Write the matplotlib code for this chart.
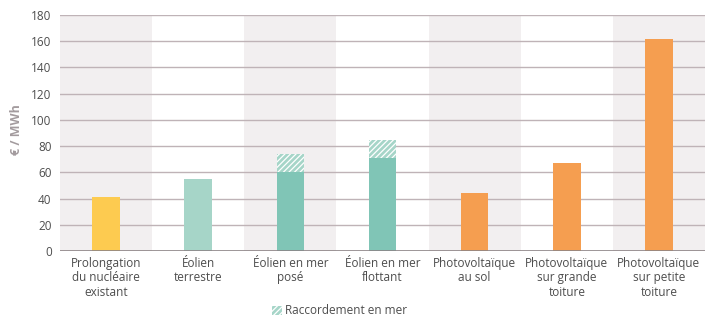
import numpy as np
import matplotlib.pyplot as plt
import matplotlib as mpl
from matplotlib.patches import Patch

mpl.rcParams['hatch.linewidth'] = 0.9

# Données
categories = [
    "Prolongation\ndu nucléaire\nexistant",
    "Éolien\nterrestre",
    "Éolien en mer\nposé",
    "Éolien en mer\nflottant",
    "Photovoltaïque\nau sol",
    "Photovoltaïque\nsur grande\ntoiture",
    "Photovoltaïque\nsur petite\ntoiture",
]
cout_base = [41, 55, 60, 71, 44, 67, 162]
raccordement_mer = [0, 0, 14, 14, 0, 0, 0]
couleurs = ["#FDCB50", "#A6D5C8", "#80C5B6", "#80C5B6",
            "#F59E50", "#F59E50", "#F59E50"]
yticks = [0, 20, 40, 60, 80, 100, 120, 140, 160, 180]

fig = plt.figure(figsize=(7.05, 3.18), dpi=100)
ax = fig.add_axes([60 / 705, 67 / 318, 645 / 705, 236 / 318])

x = np.arange(len(categories))

# bandes de fond alternées
for i in x:
    if i % 2 == 0:
        ax.axvspan(i - 0.5, i + 0.5, color="#F2EFF0", zorder=0, lw=0)

for t in yticks[1:]:
    ax.axhline(t, color="#BFB3B7", lw=1.0, zorder=1)
ax.axhline(0, color="#8C8486", lw=1.2, zorder=3)

ax.bar(x, cout_base, width=0.3, color=couleurs, zorder=2, lw=0)
ax.bar(x, raccordement_mer, width=0.3, bottom=cout_base,
       color="#A6D5C8", hatch="//////", edgecolor="white", lw=0, zorder=2)

ax.set_xlim(-0.5, len(categories) - 0.5)
ax.set_ylim(0, 180)
ax.set_yticks(yticks)
ax.set_xticks(x)
ax.set_xticklabels(categories, fontsize=8.5, color="#4D4D4D",
                   family="Open Sans", linespacing=1.15)
ax.tick_params(axis="y", labelsize=8.5, labelcolor="#4D4D4D", length=0, pad=6)
ax.tick_params(axis="x", length=0, pad=4)
for lab in ax.get_yticklabels():
    lab.set_family("Open Sans")
for s in ax.spines.values():
    s.set_visible(False)

fig.text(16 / 705, 1 - 130 / 318, "€ / MWh", rotation=90, ha="center",
         va="center", fontsize=9, fontweight="bold", color="#A39B9E",
         family="Open Sans")

handle = Patch(facecolor="#A6D5C8", hatch="//////", edgecolor="white", lw=0)
fig.legend([handle], ["Raccordement en mer"], loc="center",
           bbox_to_anchor=(340 / 705, 1 - 311 / 318), frameon=False,
           prop={"family": "Open Sans", "size": 8.5}, handlelength=0.8,
           handleheight=0.8, handletextpad=0.3, labelcolor="#4D4D4D")

fig.savefig("out.png", dpi=100)
